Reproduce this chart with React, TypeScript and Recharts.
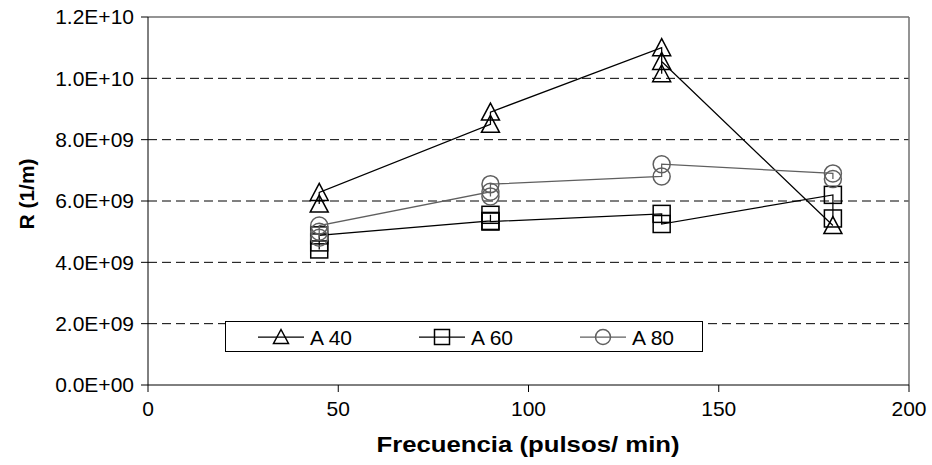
import React from "react";
import {
  ScatterChart,
  Scatter,
  XAxis,
  YAxis,
  CartesianGrid,
  ReferenceLine,
  Legend,
  Label,
} from "recharts";

// frecuencia (pulsos/min) and R (1/m), points in the order the lines join them
const A40_X = [45, 45, 90, 90, 135, 135, 135, 180];
const A40_Y = [5.9e9, 6.28e9, 8.5e9, 8.9e9, 11.0e9, 10.15e9, 10.55e9, 5.2e9];

const A60_X = [45, 45, 45, 90, 90, 90, 135, 135, 180, 180];
const A60_Y = [4.42e9, 4.65e9, 4.88e9, 5.35e9, 5.55e9, 5.33e9, 5.58e9, 5.25e9, 6.2e9, 5.43e9];

const A80_X = [45, 45, 45, 90, 90, 90, 135, 135, 180, 180];
const A80_Y = [4.8e9, 5.0e9, 5.2e9, 6.3e9, 6.15e9, 6.55e9, 6.8e9, 7.2e9, 6.9e9, 6.72e9];

const X_TICKS = [0, 50, 100, 150, 200];
const Y_TICKS = [0, 2e9, 4e9, 6e9, 8e9, 1e10, 1.2e10];
const GRID_Y = [2e9, 4e9, 6e9, 8e9, 1e10];

const FONT = "'Liberation Sans', Arial, sans-serif";
const GRAY = "#5f5f5f";

const toPoints = (xs: number[], ys: number[]) => xs.map((x, i) => ({ x, y: ys[i] }));

function fmtSci(v: number) {
  if (v === 0) return "0.0E+00";
  const [m, e] = v.toExponential(1).split("e");
  const exp = Math.abs(Number(e)).toString().padStart(2, "0");
  return `${m}E${Number(e) < 0 ? "-" : "+"}${exp}`;
}

const triangle = (color: string, s = 9) => (p: any) => (
  <path
    d={`M${p.cx},${p.cy - s}L${p.cx + s},${p.cy + s - 1}L${p.cx - s},${p.cy + s - 1}Z`}
    fill="none"
    stroke={color}
    strokeWidth={1.5}
  />
);

const square = (color: string, s = 8.5) => (p: any) => (
  <rect x={p.cx - s} y={p.cy - s} width={2 * s} height={2 * s} fill="none" stroke={color} strokeWidth={1.5} />
);

const circle = (color: string, r = 8.5) => (p: any) => (
  <circle cx={p.cx} cy={p.cy} r={r} fill="none" stroke={color} strokeWidth={1.5} />
);

const SERIES = [
  { name: "A 40", color: "#000", shape: triangle, xs: A40_X, ys: A40_Y },
  { name: "A 60", color: "#000", shape: square, xs: A60_X, ys: A60_Y },
  { name: "A 80", color: GRAY, shape: circle, xs: A80_X, ys: A80_Y },
];

function LegendBox() {
  const slots = [33, 194, 355];
  return (
    <svg width={478} height={31} style={{ display: "block" }}>
      <rect x={0.5} y={0.5} width={477} height={30} fill="#fff" stroke="#000" />
      {SERIES.map((s, i) => {
        const x0 = slots[i];
        const cx = x0 + 23;
        const Shape = s.shape(s.color, 7.5);
        return (
          <g key={s.name}>
            <line x1={x0} x2={x0 + 46} y1={16} y2={16} stroke={s.color} strokeWidth={1.25} />
            {Shape({ cx, cy: 16 })}
            <text x={x0 + 52} y={16} dominantBaseline="central" fontFamily={FONT} fontSize={21} fill="#000">
              {s.name}
            </text>
          </g>
        );
      })}
    </svg>
  );
}

export default function App() {
  return (
    <div style={{ position: "absolute", left: 0, top: 0, background: "#fff" }}>
      <ScatterChart width={932} height={465} margin={{ top: 17, right: 23, left: 8, bottom: 0 }}>
        <CartesianGrid
          horizontal
          vertical={false}
          horizontalValues={GRID_Y}
          stroke="#000"
          strokeDasharray="9 5"
        />
        <ReferenceLine y={1.2e10} stroke="#707070" strokeWidth={1.5} />
        <ReferenceLine x={200} stroke="#707070" strokeWidth={1.5} />
        <XAxis
          type="number"
          dataKey="x"
          domain={[0, 200]}
          ticks={X_TICKS}
          height={80}
          tickSize={7}
          tickMargin={9}
          stroke="#000"
          tick={{ fill: "#000", fontSize: 21, fontFamily: FONT }}
        >
          <Label
            content={() => (
              <text
                transform="translate(528 444) scale(1.17 1)"
                textAnchor="middle"
                dominantBaseline="central"
                fontFamily={FONT}
                fontSize={22}
                fontWeight="bold"
                fill="#000"
              >
                Frecuencia (pulsos/ min)
              </text>
            )}
          />
        </XAxis>
        <YAxis
          type="number"
          dataKey="y"
          domain={[0, 1.2e10]}
          ticks={Y_TICKS}
          width={140}
          tickSize={7}
          tickMargin={7}
          stroke="#000"
          tickFormatter={fmtSci}
          tick={{ fill: "#000", fontSize: 21, fontFamily: FONT }}
        >
          <Label
            content={() => (
              <text
                x={26}
                y={194}
                transform="rotate(-90 26 194)"
                textAnchor="middle"
                dominantBaseline="central"
                fontFamily={FONT}
                fontSize={21}
                fontWeight="bold"
                fill="#000"
              >
                R (1/m)
              </text>
            )}
          />
        </YAxis>
        {SERIES.map((s) => (
          <Scatter
            key={s.name}
            name={s.name}
            data={toPoints(s.xs, s.ys)}
            line={{ stroke: s.color, strokeWidth: 1.25 }}
            lineType="joint"
            shape={s.shape(s.color)}
            isAnimationActive={false}
          />
        ))}
        <Legend
          layout="horizontal"
          verticalAlign="middle"
          align="center"
          content={() => <LegendBox />}
          wrapperStyle={{ left: 225, top: 321, width: 478, height: 31 }}
        />
      </ScatterChart>
    </div>
  );
}
